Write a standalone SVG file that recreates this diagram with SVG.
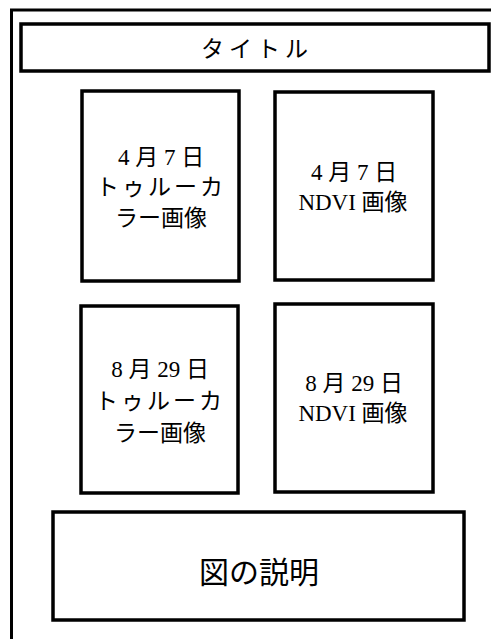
<svg xmlns="http://www.w3.org/2000/svg" width="491" height="639" viewBox="0 0 491 639">
<style>
.box{fill:#fff;stroke:#000;stroke-width:3.5}
.t{font-family:"Liberation Serif","Noto Sans CJK JP",serif;fill:#000;text-anchor:middle;dominant-baseline:central}
.n{font-size:23px}
</style>
<rect width="491" height="639" fill="#fff"/>
<g id="frame"><rect x="11.5" y="10" width="500" height="650" fill="none" stroke="#000" stroke-width="3"/></g>
<g id="title"><rect class="box" x="21" y="24" width="468" height="47"/><text class="t" x="257" y="49" font-size="23" letter-spacing="5">タイトル</text></g>
<g id="n1"><rect class="box" x="82" y="91" width="157" height="190"/>
<text class="t n" x="161" y="157">4 月 7 日</text>
<text class="t n" x="161" y="187" letter-spacing="3">トゥルーカ</text>
<text class="t n" x="161" y="218">ラー画像</text></g>
<g id="n2"><rect class="box" x="275" y="92" width="158" height="188"/>
<text class="t n" x="354" y="172">4 月 7 日</text>
<text class="t n" x="353" y="202">NDVI 画像</text></g>
<g id="n3"><rect class="box" x="81" y="306" width="157" height="187"/>
<text class="t n" x="160" y="369">8 月 29 日</text>
<text class="t n" x="160" y="401" letter-spacing="3">トゥルーカ</text>
<text class="t n" x="160" y="433">ラー画像</text></g>
<g id="n4"><rect class="box" x="275" y="304" width="158" height="188"/>
<text class="t n" x="354" y="383">8 月 29 日</text>
<text class="t n" x="353" y="413">NDVI 画像</text></g>
<g id="caption"><rect class="box" x="53" y="512" width="411" height="108"/>
<text class="t" x="259" y="572" font-size="30">図の説明</text></g>
<g id="connectors"/>
</svg>
